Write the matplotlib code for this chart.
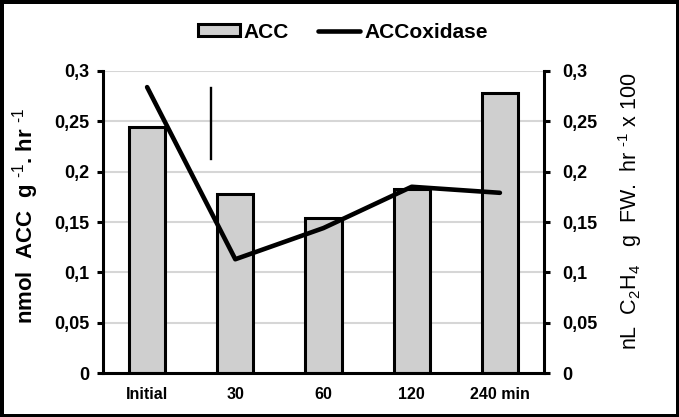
import matplotlib
matplotlib.use("Agg")
import matplotlib.pyplot as plt
import numpy as np

plt.rcParams['font.family'] = ['Liberation Sans', 'DejaVu Sans']
plt.rcParams['mathtext.fontset'] = 'custom'
plt.rcParams['mathtext.rm'] = 'Liberation Sans'
plt.rcParams['mathtext.bf'] = 'Liberation Sans:bold'
plt.rcParams['mathtext.default'] = 'regular'

categories = ['Initial', '30', '60', '120', '240 min']
acc = [0.244, 0.178, 0.154, 0.183, 0.278]
acc_oxidase = [0.284, 0.113, 0.144, 0.185, 0.179]
# stray vertical mark drawn in the original figure
mark_x = 0.72
mark_y = [0.213, 0.283]
yticks = [0, 0.05, 0.1, 0.15, 0.2, 0.25, 0.3]
ytick_labels = ['0', '0,05', '0,1', '0,15', '0,2', '0,25', '0,3']

fig = plt.figure(figsize=(6.79, 4.17), dpi=100, edgecolor='black', linewidth=5)
ax = fig.add_axes([103/679, 1 - 373/417, 441/679, 302/417])
ax2 = ax.twinx()

x = np.arange(len(categories))

ax.set_axisbelow(True)
ax.grid(axis='y', color='#d6d6d6', linewidth=1.5)
bars = ax.bar(x, acc, width=0.41, color='#cfcfcf', edgecolor='black',
              linewidth=2.2, label='ACC', zorder=2)
line, = ax2.plot(x, acc_oxidase, color='black', linewidth=3.3,
                 solid_capstyle='round', label='ACCoxidase')
ax2.plot([mark_x, mark_x], mark_y, color='black', linewidth=1.7)

for a in (ax, ax2):
    a.set_ylim(0, 0.3)
    a.set_xlim(-0.5, len(categories) - 0.5)
    a.set_yticks(yticks)
    a.set_yticklabels(ytick_labels, fontsize=13, fontweight='bold')
    a.spines['top'].set_visible(False)
    a.tick_params(axis='y', length=4.3, width=2.2, direction='out')

ax.spines['right'].set_visible(False)
ax.spines['left'].set_linewidth(2.2)
ax.spines['bottom'].set_linewidth(2.2)
ax2.spines['left'].set_visible(False)
ax2.spines['bottom'].set_visible(False)
ax2.spines['right'].set_linewidth(2.2)

ax.tick_params(axis='y', pad=5.5)
ax2.tick_params(axis='y', pad=8.5)

ax.set_xticks(x)
ax.set_xticklabels(categories, fontsize=11.5, fontweight='bold')
ax.tick_params(axis='x', length=0, pad=10)

ax.set_ylabel(r'nmol  ACC  g $^{\text{-1}}$. hr $^{\text{-1}}$', fontsize=16,
              fontweight='bold', va='center')
ax.yaxis.set_label_coords(-0.175, 0.52)
ax2.set_ylabel(r'nL  C$_2$H$_4$   g  FW.  hr $^{\text{-1}}$ x 100', fontsize=15.5,
               va='center', rotation=90)
ax2.yaxis.set_label_coords(1.195, 0.535)

fig.legend(handles=[bars, line], loc='center', bbox_to_anchor=(0.505, 0.923),
           ncol=2, frameon=False, prop={'weight': 'bold', 'size': 15},
           handlelength=2.0, handleheight=0.5, handletextpad=0.2,
           columnspacing=1.4, borderaxespad=0)

fig.savefig('out.png', dpi=100)
